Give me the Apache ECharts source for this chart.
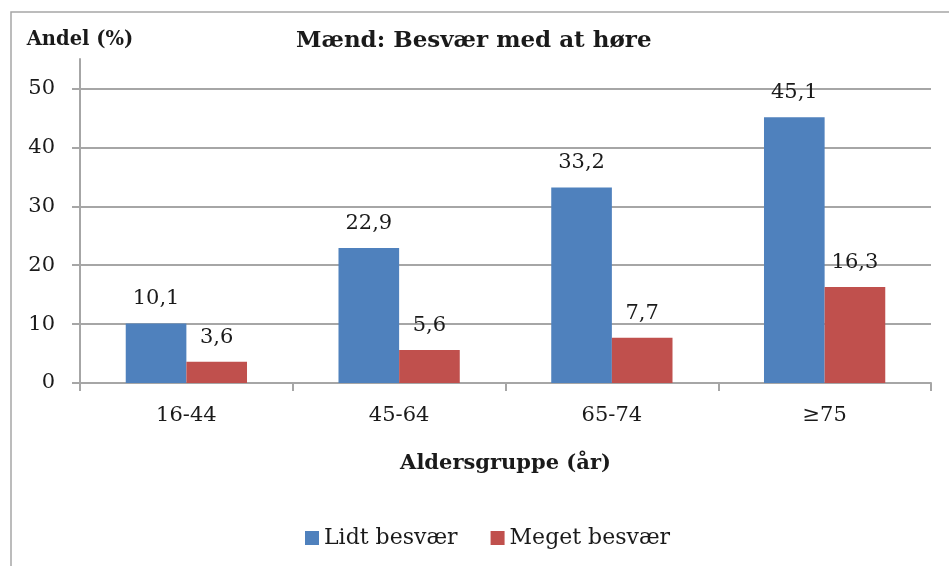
<!DOCTYPE html>
<html>
<head>
<meta charset="utf-8">
<script src="https://cdn.jsdelivr.net/npm/echarts@6/dist/echarts.min.js"></script>
<style>
html, body { margin: 0; padding: 0; background: #fff; }
#main { width: 949px; height: 566px; }
</style>
</head>
<body>
<div id="main"></div>
<script>
// aldersgrupper og andele (%)
var categories = ['16-44', '45-64', '65-74', '\u226575'];
var lidtData = [10.1, 22.9, 33.2, 45.1];
var megetData = [3.6, 5.6, 7.7, 16.3];
var yTicks = [0, 10, 20, 30, 40, 50];

var serif = '"DejaVu Serif", serif';

function komma(p) {
    return String(p.value).replace('.', ',');
}

var myChart = echarts.init(document.getElementById('main'));
var option = {
    backgroundColor: '#fff',
    animation: false,
    textStyle: { fontFamily: serif },
    // ramme om diagrammet
    graphic: [{
        type: 'rect',
        shape: { x: 11, y: 12, width: 960, height: 600 },
        style: { fill: 'none', stroke: '#a6a6a6', lineWidth: 1.5 },
        silent: true
    }],
    title: {
        text: 'Mænd: Besvær med at høre',
        left: 291,
        top: 25,
        textStyle: { fontFamily: serif, fontSize: 23, fontWeight: 'bold', color: '#1a1a1a' }
    },
    legend: {
        left: 300,
        top: 522,
        itemWidth: 14,
        itemHeight: 14,
        itemGap: 33,
        icon: 'rect',
        textStyle: { fontFamily: serif, fontSize: 22, color: '#1a1a1a' },
        data: ['Lidt besvær', 'Meget besvær']
    },
    grid: { left: 80, right: 18, top: 59, bottom: 183 },
    xAxis: {
        type: 'category',
        data: categories,
        name: 'Aldersgruppe (år)',
        nameLocation: 'middle',
        nameGap: 70,
        nameTextStyle: { fontFamily: serif, fontSize: 21, fontWeight: 'bold', color: '#1a1a1a' },
        axisLine: { lineStyle: { color: '#a6a6a6', width: 2 } },
        axisTick: { show: true, length: 8, lineStyle: { color: '#a6a6a6', width: 2 } },
        axisLabel: { margin: 22, fontSize: 21, fontFamily: serif, color: '#1a1a1a' }
    },
    yAxis: {
        type: 'value',
        min: 0,
        max: 55,
        interval: 10,
        name: 'Andel (%)',
        nameLocation: 'end',
        nameGap: 9,
        nameTextStyle: { fontFamily: serif, fontSize: 19.5, fontWeight: 'bold', color: '#1a1a1a', align: 'center' },
        axisLine: { show: true, lineStyle: { color: '#a6a6a6', width: 2 } },
        axisTick: { show: true, length: 8, customValues: yTicks, lineStyle: { color: '#a6a6a6', width: 2 } },
        axisLabel: { margin: 25, fontSize: 21, fontFamily: serif, color: '#1a1a1a', customValues: yTicks },
        splitLine: { show: true, lineStyle: { color: '#a6a6a6', width: 2 } }
    },
    series: [
        {
            name: 'Lidt besvær',
            type: 'bar',
            data: lidtData,
            barGap: '0%',
            barCategoryGap: '43%',
            itemStyle: { color: '#4f81bd' },
            label: { show: true, position: 'top', distance: 14, formatter: komma, fontSize: 21, fontFamily: serif, color: '#1a1a1a' }
        },
        {
            name: 'Meget besvær',
            type: 'bar',
            data: megetData,
            itemStyle: { color: '#c0504d' },
            label: { show: true, position: 'top', distance: 14, formatter: komma, fontSize: 21, fontFamily: serif, color: '#1a1a1a' }
        }
    ]
};
myChart.setOption(option);
</script>
</body>
</html>
